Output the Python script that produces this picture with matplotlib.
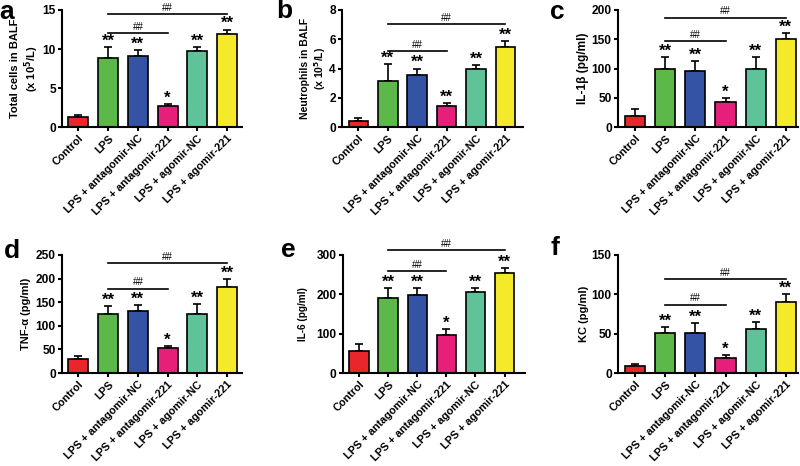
import matplotlib
matplotlib.use("Agg")
import matplotlib.pyplot as plt

plt.rcParams['font.family'] = ['Liberation Sans', 'DejaVu Sans']
plt.rcParams['font.weight'] = 'bold'

categories = ["Control", "LPS", "LPS + antagomir-NC", "LPS + antagomir-221",
              "LPS + agomir-NC", "LPS + agomir-221"]
colors = ["#e8262b", "#5cb848", "#3453a4", "#e51f7a", "#5fc39a", "#f4ea2a"]

total_cells = [1.3, 8.8, 9.1, 2.65, 9.8, 11.9]
total_cells_err = [0.3, 1.5, 0.8, 0.35, 0.5, 0.6]
neutrophils = [0.41, 3.14, 3.53, 1.43, 4.0, 5.47]
neutrophils_err = [0.19, 1.14, 0.47, 0.23, 0.24, 0.41]
il1b = [19.4, 100, 96, 43, 100, 151]
il1b_err = [10.6, 20, 17, 7, 20, 10]
tnfa = [30, 126, 132, 53, 126, 183]
tnfa_err = [5, 16, 13, 5, 21, 17]
il6 = [57, 190, 199, 97, 206, 254]
il6_err = [16, 27, 17, 16, 9, 14]
kc = [9.3, 51, 51, 19, 56, 90]
kc_err = [2.2, 7.6, 13, 4, 9, 10]

stars = ["", "**", "**", "*", "**", "**"]
stars_b = ["", "**", "**", "**", "**", "**"]

W, H = 800, 466


def px_pos(left, right, top, bottom):
    return [left / W, 1 - bottom / H, (right - left) / W, (bottom - top) / H]


panels = [
    dict(letter="a", vals=total_cells, err=total_cells_err, ylabel="Total cells in BALF\n(x 10$^5$/L)",
         ymax=15, yticks=[0, 5, 10, 15], lines=(14.5, 12.0), stars=stars, yfs=8.0, ylx=-0.115,
         pos=px_pos(62, 242, 10, 127), xlim=(-0.55, 5.5), lpos=(7, 12)),
    dict(letter="b", vals=neutrophils, err=neutrophils_err, ylabel="Neutrophils in BALF\n(x 10$^5$/L)",
         ymax=8, yticks=[0, 2, 4, 6, 8], lines=(7.04, 5.2), stars=stars_b, yfs=7.5, ylx=-0.077,
         pos=px_pos(342, 523, 10, 127), xlim=(-0.56, 5.6), lpos=(284, 11)),
    dict(letter="c", vals=il1b, err=il1b_err, ylabel="IL-1β (pg/ml)",
         ymax=200, yticks=[0, 50, 100, 150, 200], lines=(187, 147), stars=stars, yfs=8.6, ylx=-0.16,
         pos=px_pos(618, 798, 10, 127), xlim=(-0.56, 5.4), lpos=(557, 12)),
    dict(letter="d", vals=tnfa, err=tnfa_err, ylabel="TNF-α (pg/ml)",
         ymax=250, yticks=[0, 50, 100, 150, 200, 250], lines=(232, 179), stars=stars, yfs=8.0, ylx=-0.17,
         pos=px_pos(62, 242, 255, 373), xlim=(-0.55, 5.5), lpos=(12, 251)),
    dict(letter="e", vals=il6, err=il6_err, ylabel="IL-6 (pg/ml)",
         ymax=300, yticks=[0, 100, 200, 300], lines=(313, 259), stars=stars, yfs=7.2, ylx=-0.19,
         pos=px_pos(343, 525, 255, 373), xlim=(-0.55, 5.7), lpos=(288, 250)),
    dict(letter="f", vals=kc, err=kc_err, ylabel="KC (pg/ml)",
         ymax=150, yticks=[0, 50, 100, 150], lines=(119, 87), stars=stars, yfs=8.0, ylx=-0.16,
         pos=px_pos(618, 798, 255, 373), xlim=(-0.56, 5.4), lpos=(555, 248)),
]

fig = plt.figure(figsize=(8, 4.66), dpi=100)
x = list(range(len(categories)))

for p in panels:
    ax = fig.add_axes(p["pos"])
    ax.bar(x, p["vals"], width=0.67, color=colors, edgecolor="black", linewidth=1.2, zorder=2)
    ax.errorbar(x, p["vals"], yerr=[[0]*6, p["err"]], fmt="none", ecolor="black",
                elinewidth=1.2, capsize=3, capthick=1.2, zorder=1)
    ax.set_xlim(*p["xlim"])
    ax.set_ylim(0, p["ymax"])
    ax.set_yticks(p["yticks"])
    ax.set_xticks(x)
    ax.set_xticklabels(categories, rotation=45, ha="right", rotation_mode="anchor",
                       fontsize=7.8, fontweight="bold")
    for lab in ax.get_yticklabels():
        lab.set_fontsize(8.6)
        lab.set_fontweight("bold")
    ax.set_ylabel(p["ylabel"], fontsize=p["yfs"], fontweight="bold")
    ax.yaxis.set_label_coords(p["ylx"], 0.5)
    for s in ["top", "right"]:
        ax.spines[s].set_visible(False)
    for s in ["left", "bottom"]:
        ax.spines[s].set_linewidth(1.5)
    ax.tick_params(axis="both", width=1.5, length=3, pad=1.5)
    ymax = p["ymax"]
    for i, (v, e, s) in enumerate(zip(p["vals"], p["err"], p["stars"])):
        if s:
            ax.text(i, v + e - ymax * 0.015, s, ha="center", va="bottom", fontsize=12,
                    fontweight="bold")
    l1, l2 = p["lines"]
    ax.plot([1, 5], [l1, l1], color="black", lw=1.2, clip_on=False)
    ax.text(3, l1 + ymax * 0.01, "##", ha="center", va="bottom", fontsize=7, fontweight="normal",
            clip_on=False)
    ax.plot([1, 3], [l2, l2], color="black", lw=1.2, clip_on=False)
    ax.text(2, l2 + ymax * 0.01, "##", ha="center", va="bottom", fontsize=7, fontweight="normal",
            clip_on=False)
    lx, ly = p["lpos"]
    fig.text(lx / W, 1 - ly / H, p["letter"], fontsize=19, fontweight="bold", ha="center", va="center")

fig.savefig("out.png", dpi=100)
